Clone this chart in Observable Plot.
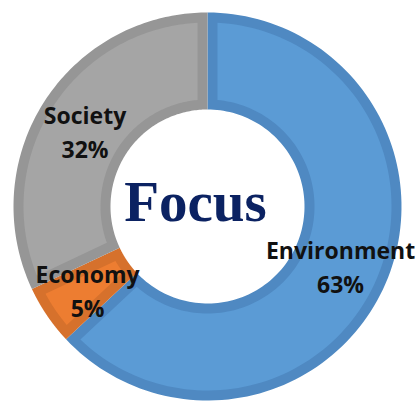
<!DOCTYPE html>
<html>
<head>
<meta charset="utf-8">
<script src="https://cdn.jsdelivr.net/npm/d3@7"></script>
<script src="https://cdn.jsdelivr.net/npm/@observablehq/plot@0.6"></script>
<style>
  html, body { margin: 0; padding: 0; background: #fff; }
  #chart svg { display: block; }
</style>
</head>
<body>
<div id="chart"></div>
<script>
// Data
const categories = ["Environment", "Economy", "Society"];
const shares = [63, 5, 32];
const labels = ["Environment\n63%", "Economy\n5%", "Society\n32%"];
const centerTitle = ["Focus"];

// Styles (separate from data)
const fillColors = ["#5B9BD5", "#ED7D31", "#A5A5A5"];
const bandColors = ["#4F89C2", "#D6712C", "#969696"];

const W = 418, H = 401;
const R_OUT = 194, R_IN = 97, BAND = 10, LABEL_R = 145;

// Slice angles (clockwise from 12 o'clock), derived from the shares
const total = d3.sum(shares);
let acc = 0;
const slices = categories.map((c, i) => {
  const a0 = acc / total * 2 * Math.PI;
  acc += shares[i];
  const a1 = acc / total * 2 * Math.PI;
  return {category: c, a0, a1, label: labels[i]};
});

// Build polygon outline for an annular sector, optionally inset by d
function sectorPoints(s, d, key) {
  const ro = R_OUT - d, ri = R_IN + d;
  const pts = [];
  const n = 120;
  const dOut = Math.asin(d / ro), dIn = Math.asin(d / ri);
  const o0 = s.a0 + dOut, o1 = s.a1 - dOut;
  for (let k = 0; k <= n; k++) {
    const t = o0 + (o1 - o0) * k / n;
    pts.push({key, x: ro * Math.sin(t), y: ro * Math.cos(t)});
  }
  const i0 = s.a0 + dIn, i1 = s.a1 - dIn;
  for (let k = n; k >= 0; k--) {
    const t = i0 + (i1 - i0) * k / n;
    pts.push({key, x: ri * Math.sin(t), y: ri * Math.cos(t)});
  }
  return pts;
}

const polyData = [];
slices.forEach(s => polyData.push(...sectorPoints(s, 0, s.category + "|band")));
slices.forEach(s => polyData.push(...sectorPoints(s, BAND, s.category + "|fill")));

const colorDomain = [...categories.map(c => c + "|band"), ...categories.map(c => c + "|fill")];
const colorRange = [...bandColors, ...fillColors];

const labelData = slices.map(s => {
  const m = (s.a0 + s.a1) / 2;
  return {x: LABEL_R * Math.sin(m), y: LABEL_R * Math.cos(m), text: s.label};
});

const plot = Plot.plot({
  width: W,
  height: H,
  margin: 0,
  x: {domain: [-207, 211], axis: null},
  y: {domain: [-195, 206], axis: null},
  color: {domain: colorDomain, range: colorRange},
  style: {background: "#fff"},
  marks: [
    Plot.line(polyData, {x: "x", y: "y", z: "key", fill: "key", stroke: "none"}),
    Plot.text(labelData, {
      x: "x", y: "y", text: "text",
      fontFamily: "Open Sans", fontWeight: "bold", fontSize: 23,
      lineHeight: 1.5, fill: "#111", dy: 1
    }),
    Plot.text(centerTitle, {
      x: () => 0, y: () => 0, text: d => d,
      fontFamily: "Liberation Serif", fontWeight: "bold", fontSize: 57,
      fill: "#0B2262", dx: -12, dy: -4,
      style: "text-shadow: 2px 2px 2px rgba(0,0,0,0.25)"
    })
  ]
});

document.getElementById("chart").appendChild(plot);
</script>
</body>
</html>
